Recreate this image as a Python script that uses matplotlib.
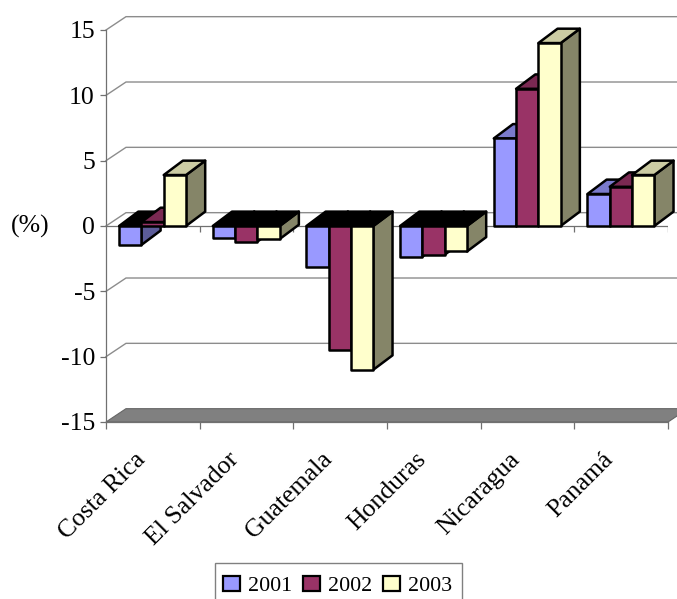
import matplotlib
matplotlib.use("Agg")
import matplotlib.pyplot as plt
from matplotlib.patches import Patch, Rectangle

plt.rcParams["font.family"] = ["Liberation Serif", "DejaVu Serif"]
plt.rcParams["axes.unicode_minus"] = False

Countries = ["Costa Rica", "El Salvador", "Guatemala", "Honduras", "Nicaragua", "Panamá"]
Years = ["2001", "2002", "2003"]
Values2001 = [-1.45, -0.95, -3.1, -2.35, 6.7, 2.45]
Values2002 = [0.3, -1.2, -9.5, -2.2, 10.5, 3.0]
Values2003 = [3.9, -1.0, -11.0, -1.95, 14.0, 3.9]
YTicks = [-15, -10, -5, 0, 5, 10, 15]

FrontColors = ["#9999FF", "#993366", "#FFFFCC"]
TopColors = ["#7A7ACC", "#7A2952", "#CCCCA3"]
SideColors = ["#5C5C99", "#5C1F3D", "#858568"]

AxisColor = "#707070"
GridColor = "#8C8C8C"
WallDx = 0.2135
WallDy = 1.02
BarDx = 0.205
BarDy = 1.1
BarStart = 0.14
BarWidth = 0.238
FontSize = 18.5
LegendFontSize = 15.8


def drawWalls(ax):
    # Floor of the 3D box
    ax.fill([0, WallDx, 6 + WallDx, 6],
            [YTicks[0], YTicks[0] + WallDy, YTicks[0] + WallDy, YTicks[0]],
            facecolor="#808080", edgecolor="#666666", linewidth=0.8,
            clip_on=False, zorder=1)

    # Back wall lines and the diagonal going back from each y tick
    for Tick in YTicks[1:]:
        ax.plot([0, WallDx, 6 + WallDx], [Tick, Tick + WallDy, Tick + WallDy],
                color=GridColor, linewidth=1.0, clip_on=False, zorder=1,
                snap=False, solid_joinstyle="miter")

    # Front zero line with its own small ticks
    ax.axhline(0, color=AxisColor, linewidth=0.9, zorder=2)
    ax.vlines(range(1, 7), -0.45, 0, color=AxisColor, linewidth=0.9, zorder=2)


def drawBar(ax, Left, Value, Serie):
    Right = Left + BarWidth
    # Round joins, miter leaves spikes on the sharp corners of the top faces
    Style = dict(edgecolor="black", linewidth=1.8, clip_on=False, zorder=3,
                 joinstyle="round")
    High = max(Value, 0)

    # Right face
    ax.fill([Right, Right + BarDx, Right + BarDx, Right],
            [High, High + BarDy, min(Value, 0) + BarDy, min(Value, 0)],
            facecolor=SideColors[Serie], **Style)

    # Top face, black when looking at the inside of a negative bar
    TopColor = TopColors[Serie] if Value >= 0 else "black"
    ax.fill([Left, Left + BarDx, Right + BarDx, Right],
            [High, High + BarDy, High + BarDy, High],
            facecolor=TopColor, **Style)

    # Front face
    ax.fill([Left, Right, Right, Left], [0, 0, Value, Value],
            facecolor=FrontColors[Serie], **Style)


fig = plt.figure(figsize=(6.77, 5.99), dpi=100)
ax = fig.add_axes([106 / 677, (599 - 422) / 599, 562 / 677, 392 / 599])
ax.set_xlim(0, 6)
ax.set_ylim(YTicks[0], YTicks[-1])

for Side in ["top", "right"]:
    ax.spines[Side].set_visible(False)
for Side in ["left", "bottom"]:
    ax.spines[Side].set_color(AxisColor)
    ax.spines[Side].set_linewidth(0.9)

ax.set_yticks(YTicks)
ax.set_yticklabels([str(t) for t in YTicks], fontsize=FontSize)
ax.tick_params(axis="y", length=4.5, width=0.9, color=AxisColor, pad=3.5)

ax.set_xticks(range(7))
ax.set_xticklabels([])
ax.tick_params(axis="x", which="major", length=5, width=0.9, color=AxisColor)
ax.set_xticks([i + 0.3 for i in range(6)], minor=True)
ax.set_xticklabels(Countries, minor=True, rotation=45, ha="right",
                   rotation_mode="anchor", fontsize=FontSize)
ax.tick_params(axis="x", which="minor", length=0, pad=19)

ax.set_ylabel("(%)", rotation=0, fontsize=FontSize, va="center", ha="center")
ax.yaxis.set_label_coords(-0.135, 0.5)

drawWalls(ax)

for Index in range(len(Countries)):
    Group = [Values2001[Index], Values2002[Index], Values2003[Index]]
    for Serie, Value in enumerate(Group):
        drawBar(ax, Index + BarStart + Serie * BarWidth, Value, Serie)

# The legend box runs off the bottom of the picture, so its frame is separate
fig.add_artist(Rectangle((215 / 677, -10 / 599), 247 / 677, 46 / 599, transform=fig.transFigure,
                         facecolor="white", edgecolor="#808080", linewidth=1.0))

Handles = [Patch(facecolor=FrontColors[i], edgecolor="black", linewidth=1.6, label=Years[i])
           for i in range(len(Years))]
fig.legend(handles=Handles, ncols=3, loc="lower left", bbox_to_anchor=(223 / 677, 3 / 599),
           borderaxespad=0, fontsize=LegendFontSize, frameon=False,
           handlelength=0.76, handleheight=0.72, handletextpad=0.38,
           columnspacing=0.5, borderpad=0)

fig.savefig("out.png", dpi=100)
